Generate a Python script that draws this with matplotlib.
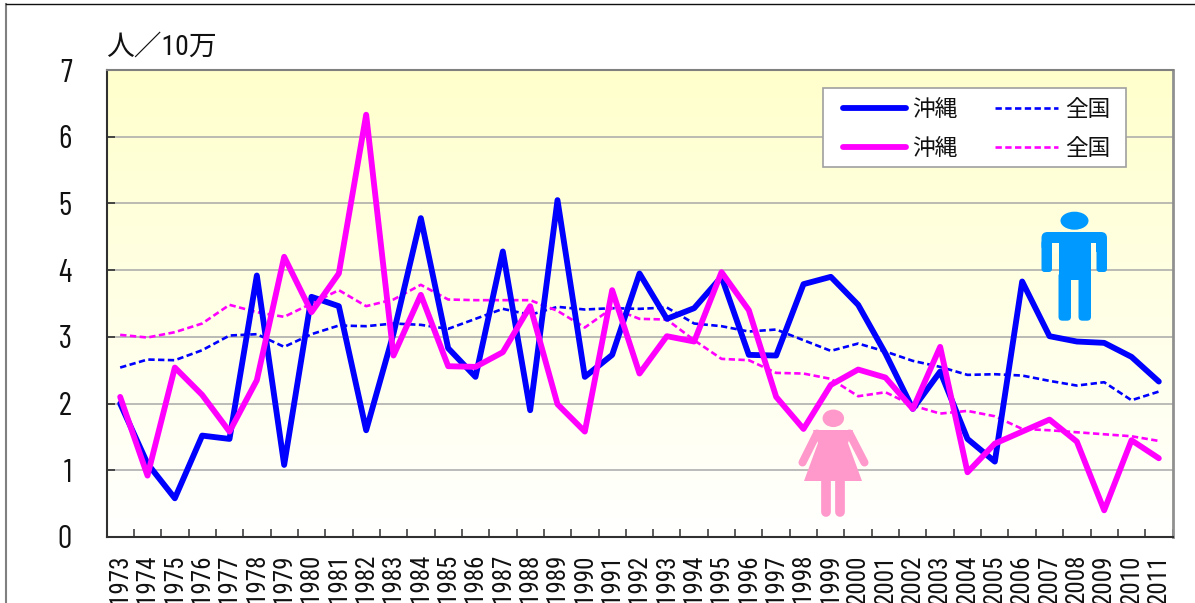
import matplotlib
matplotlib.use("Agg")
import matplotlib.pyplot as plt
import numpy as np
from matplotlib.patches import Rectangle, Ellipse, FancyBboxPatch, Polygon
from matplotlib.colors import LinearSegmentedColormap

plt.rcParams['font.family'] = ['Noto Sans CJK JP', 'DejaVu Sans']

years = list(range(1973, 2012))
oki_m = [2.0,1.1,.58,1.52,1.47,3.92,1.08,3.6,3.46,1.6,3.05,4.78,2.83,2.4,4.28,1.9,5.05,2.4,2.73,3.95,3.27,3.43,3.9,2.73,2.72,3.79,3.9,3.48,2.75,1.92,2.48,1.47,1.13,3.83,3.01,2.93,2.91,2.7,2.33]
oki_f = [2.1,.92,2.54,2.13,1.58,2.35,4.2,3.37,3.95,6.33,2.72,3.63,2.56,2.55,2.77,3.46,1.99,1.58,3.7,2.45,3.01,2.93,3.97,3.4,2.1,1.62,2.28,2.51,2.39,1.92,2.85,.97,1.4,1.58,1.76,1.43,.4,1.45,1.18]
nat_m = [2.54,2.66,2.65,2.8,3.02,3.04,2.85,3.04,3.17,3.16,3.2,3.18,3.12,3.27,3.42,3.33,3.45,3.41,3.43,3.42,3.44,3.2,3.16,3.08,3.11,2.95,2.79,2.9,2.78,2.64,2.55,2.43,2.44,2.42,2.34,2.27,2.32,2.05,2.18]
nat_f = [3.03,2.99,3.07,3.2,3.48,3.37,3.3,3.5,3.7,3.46,3.56,3.78,3.56,3.55,3.55,3.55,3.39,3.14,3.43,3.27,3.26,2.95,2.67,2.65,2.46,2.45,2.37,2.11,2.17,1.97,1.85,1.89,1.81,1.62,1.6,1.57,1.54,1.51,1.44]
yticks = [0,1,2,3,4,5,6,7]
unit_label = '人／10万'
label_oki = '沖縄'
label_nat = '全国'

W, H = 1195, 603
NARROW = ['Barlow Condensed', 'Roboto Condensed', 'DejaVu Sans']
YEARF = ['Roboto Condensed', 'DejaVu Sans']
DASH = (0, (2.4, 1.3))
fig = plt.figure(figsize=(W/100, H/100), dpi=100, facecolor='white')

def px(x0, y0, x1, y1):
    return [x0/W, 1-y1/H, (x1-x0)/W, (y1-y0)/H]

# outer chart frame, cut off by the edge of the image
fig.add_artist(plt.Line2D([6/W, 6/W], [0, 1-3.5/H], color='#808080', lw=1.5))
fig.add_artist(plt.Line2D([6/W, 1], [1-3.5/H, 1-3.5/H], color='#101010', lw=1))

ax = fig.add_axes(px(106.5, 70, 1172.5, 537))
ax.set_xlim(-0.5, len(years)-0.5)
ax.set_ylim(0, 7)

cmap = LinearSegmentedColormap.from_list('bg', ['#FFFFFF', '#FFFFCC'])
ax.imshow(np.linspace(1, 0, 256).reshape(-1, 1), cmap=cmap, aspect='auto',
          extent=(-0.5, len(years)-0.5, 0, 7), zorder=0, vmin=0, vmax=1)

for v in yticks[1:-1]:
    ax.axhline(v, color='#A8A8A8', lw=1.1, zorder=1)

x = np.arange(len(years))
ax.plot(x, nat_m, color='#0000FF', lw=1.9, ls=DASH, zorder=2)
ax.plot(x, nat_f, color='#FF00FF', lw=1.9, ls=DASH, zorder=2)
ax.plot(x, oki_m, color='#0000FF', lw=4.2, solid_joinstyle='round', solid_capstyle='round', zorder=3)
ax.plot(x, oki_f, color='#FF00FF', lw=4.2, solid_joinstyle='round', solid_capstyle='round', zorder=4)

ax.set_yticks(yticks)
ax.set_yticklabels([str(v) for v in yticks], fontsize=23, family=NARROW, color='#111111')
ax.tick_params(axis='y', direction='in', length=6, width=1.2, color='#303030', pad=25)
ax.set_xticks(np.arange(-0.5, len(years)))
ax.set_xticklabels([''] * (len(years)+1))
ax.tick_params(axis='x', direction='in', length=6, width=1.1, color='#303030', zorder=6)
for i, y in enumerate(years):
    ax.annotate(str(y), xy=(i, 0), xycoords=('data', 'axes fraction'), xytext=(0, -17),
                textcoords='offset pixels', rotation=90, ha='center', va='top',
                fontsize=18, family=YEARF, annotation_clip=False, color='#111111')

ax.spines['left'].set_color('#303030'); ax.spines['left'].set_linewidth(1.5)
ax.spines['bottom'].set_color('#303030'); ax.spines['bottom'].set_linewidth(1.5)
ax.spines['top'].set_color('#808080'); ax.spines['top'].set_linewidth(1.5)
ax.spines['right'].set_color('#909090'); ax.spines['right'].set_linewidth(2)

fig.text(106/W, 1-47/H, unit_label, fontsize=20, va='center', ha='left', color='#111111',
         family=['Roboto Condensed', 'Noto Sans CJK JP', 'DejaVu Sans'])

# overlay in pixel coordinates for legend and figure icons
ov = fig.add_axes([0, 0, 1, 1], facecolor='none', zorder=5)
ov.set_xlim(0, W); ov.set_ylim(H, 0); ov.axis('off')

ov.add_patch(Rectangle((823, 88), 303, 79, fc='white', ec='#A0A0A0', lw=1.2))
ov.plot([843, 906], [107.5, 107.5], color='#0000FF', lw=4.2, solid_capstyle='round')
ov.plot([843, 906], [147, 147], color='#FF00FF', lw=4.2, solid_capstyle='round')
ov.plot([995, 1058], [107.5, 107.5], color='#0000FF', lw=1.9, ls=DASH)
ov.plot([995, 1058], [147, 147], color='#FF00FF', lw=1.9, ls=DASH)
for xx, s in [(912.5, label_oki), (1065, label_nat)]:
    for yy in (109, 148.5):
        ov.text(xx, yy, s, fontsize=16.3, va='center', ha='left', color='#111111')

def bar(x0, y0, x1, y1, r, c):
    ov.add_patch(FancyBboxPatch((x0, y0), x1-x0, y1-y0,
                 boxstyle=f'round,pad=0,rounding_size={r}', fc=c, ec='none'))

# male icon
mc = '#0099FF'
ov.add_patch(Ellipse((1074.5, 220.7), 28, 18, fc=mc, ec='none'))
bar(1041.5, 232, 1107, 252, 6, mc)
bar(1041.5, 240, 1052, 272, 3, mc)
bar(1096.5, 240, 1107, 272, 3, mc)
ov.add_patch(Rectangle((1059, 240), 32, 40, fc=mc, ec='none'))
ov.add_patch(Rectangle((1052, 243), 7, 10, fc='#FFFFE6', ec='none'))
ov.add_patch(Rectangle((1091, 243), 5.5, 10, fc='#FFFFE6', ec='none'))
bar(1058.5, 272, 1071, 320.7, 4, mc)
bar(1078.5, 272, 1091, 320.7, 4, mc)

# female icon
fc = '#FF99CC'
ov.add_patch(Ellipse((833.3, 418.3), 21.5, 17.5, fc=fc, ec='none'))
ov.add_patch(Polygon([(813,430),(853,430),(848,443),(862,481),(804,481),(818,443)], fc=fc, ec='none'))
ov.plot([817, 802.5], [433.5, 462.5], color=fc, lw=5.8, solid_capstyle='round')
ov.plot([849.5, 864.5], [433.5, 462.5], color=fc, lw=5.8, solid_capstyle='round')
ov.plot([826, 826], [480, 512], color=fc, lw=7, solid_capstyle='round')
ov.plot([840, 840], [480, 512], color=fc, lw=7, solid_capstyle='round')

fig.savefig('out.png', dpi=100, facecolor='white')
